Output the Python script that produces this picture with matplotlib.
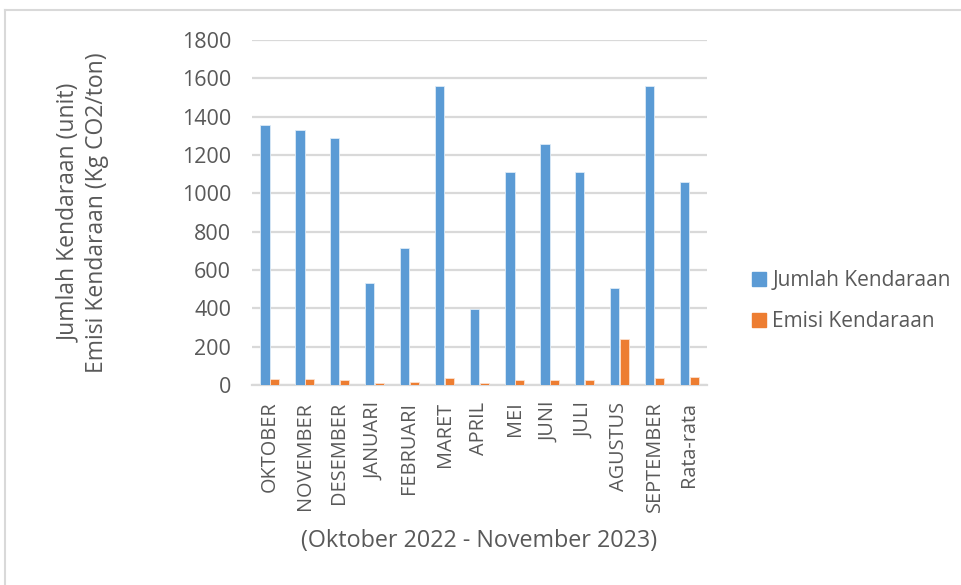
import matplotlib
matplotlib.use("Agg")
import matplotlib.pyplot as plt
from matplotlib.lines import Line2D
import numpy as np

months = ["OKTOBER", "NOVEMBER", "DESEMBER", "JANUARI", "FEBRUARI", "MARET",
          "APRIL", "MEI", "JUNI", "JULI", "AGUSTUS", "SEPTEMBER", "Rata-rata"]
jumlah_kendaraan = [1358, 1332, 1290, 530, 713, 1560, 397, 1113, 1256, 1110, 504, 1560, 1061]
emisi_kendaraan = [31, 31, 28, 12, 16, 36, 8, 25, 28, 25, 240, 36, 43]
y_ticks = [0, 200, 400, 600, 800, 1000, 1200, 1400, 1600, 1800]

BLUE = "#5B9BD5"
ORANGE = "#ED7D31"
TEXT = "#595959"
GRID = "#D9D9D9"

plt.rcParams["font.family"] = ["Open Sans", "DejaVu Sans"]

W, H = 961, 585
fig = plt.figure(figsize=(W / 100, H / 100), dpi=100)
fig.patch.set_facecolor("white")

# plot area in pixel coordinates
left, right, top, bottom = 252, 707, 40, 385
ax = fig.add_axes([left / W, 1 - bottom / H, (right - left) / W, (bottom - top) / H])

x = np.arange(len(months))
bw = 0.26
ax.bar(x - bw / 2, jumlah_kendaraan, width=bw, color=BLUE, edgecolor="#DDEBF7",
       linewidth=0.6, label="Jumlah Kendaraan", zorder=3)
ax.bar(x + bw / 2, emisi_kendaraan, width=bw, color=ORANGE, edgecolor="#FBE0CF",
       linewidth=0.6, label="Emisi Kendaraan", zorder=3)

ax.set_xlim(-0.5, len(months) - 0.5)
ax.set_ylim(0, 1800)
ax.set_yticks(y_ticks)
ax.set_yticklabels([str(v) for v in y_ticks])
ax.set_xticks(x)
ax.set_xticklabels(months, rotation=90, va="top", ha="center")

ax.grid(axis="y", color=GRID, linewidth=1.6, zorder=0)
ax.set_axisbelow(True)
for s in ["top", "right", "left"]:
    ax.spines[s].set_visible(False)
ax.spines["bottom"].set_color(GRID)
ax.spines["bottom"].set_linewidth(1.6)
ax.tick_params(axis="both", length=0, colors=TEXT)
ax.tick_params(axis="y", pad=15, labelsize=15.5)
ax.tick_params(axis="x", pad=12, labelsize=14.3)

ax.set_xlabel("(Oktober 2022 - November 2023)", fontsize=16.8, color=TEXT, labelpad=12)
fig.text(83 / W, 1 - 213 / H, "Jumlah Kendaraan (unit)\nEmisi Kendaraan (Kg CO2/ton)",
         rotation=90, ha="center", va="center", fontsize=16.5, color=TEXT,
         multialignment="center", linespacing=1.2)

handles = [Line2D([0], [0], marker="s", linestyle="none", markersize=10,
                  markerfacecolor=BLUE, markeredgecolor=BLUE),
           Line2D([0], [0], marker="s", linestyle="none", markersize=10,
                  markerfacecolor=ORANGE, markeredgecolor=ORANGE)]
leg = fig.legend(handles, ["Jumlah Kendaraan", "Emisi Kendaraan"],
                 loc="center left", bbox_to_anchor=(740 / W, 1 - 301 / H),
                 frameon=False, fontsize=15, handlelength=0.8, handletextpad=0.25,
                 labelspacing=0.95, borderpad=0)
for t in leg.get_texts():
    t.set_color(TEXT)

# chart-area frame edges
fig.add_artist(Line2D([5 / W, 1], [1 - 10 / H, 1 - 10 / H], color=GRID, linewidth=1.5))
fig.add_artist(Line2D([5 / W, 5 / W], [0, 1 - 10 / H], color=GRID, linewidth=1.5))

fig.savefig("out.png", dpi=100, facecolor="white")
